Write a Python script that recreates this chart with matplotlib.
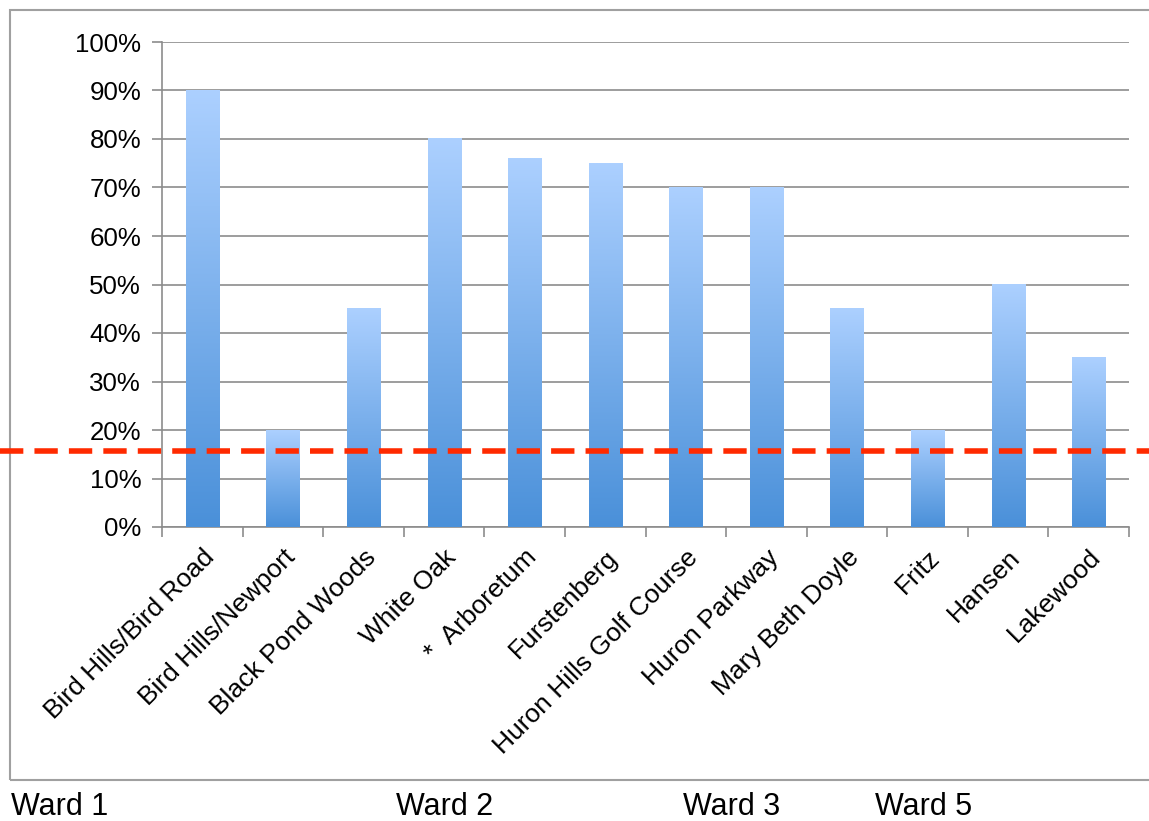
import numpy as np
import matplotlib.pyplot as plt
from matplotlib.colors import LinearSegmentedColormap
from matplotlib.patches import Rectangle
from matplotlib.lines import Line2D

plt.rcParams['font.family'] = ['Liberation Sans', 'DejaVu Sans']

sites = ["Bird Hills/Bird Road", "Bird Hills/Newport", "Black Pond Woods", "White Oak",
         "*  Arboretum", "Furstenberg", "Huron Hills Golf Course", "Huron Parkway",
         "Mary Beth Doyle", "Fritz", "Hansen", "Lakewood"]
pct = [90, 20, 45, 80, 76, 75, 70, 70, 45, 20, 50, 35]
threshold = 15.7
wards = ["Ward 1", "Ward 2", "Ward 3", "Ward 5"]
ward_x = [11, 396, 683, 875]

W, H = 1149, 821
fig = plt.figure(figsize=(W / 100, H / 100), dpi=100)
ax = fig.add_axes([162 / W, 1 - 527 / H, (1129 - 162) / W, (527 - 42) / H])

x = np.arange(len(sites))
bars = ax.bar(x, pct, width=0.41, color='none', zorder=3)

# vertical gradient inside each bar
grad = LinearSegmentedColormap.from_list('bar', ['#4a90d9', '#acd0ff'])
g = np.linspace(0, 1, 256).reshape(-1, 1)
for b in bars:
    x0, y0 = b.get_x(), b.get_y()
    ax.imshow(g, cmap=grad, origin='lower', aspect='auto', zorder=3,
              extent=[x0, x0 + b.get_width(), y0, y0 + b.get_height()])

ax.set_xlim(-0.5, len(sites) - 0.5)
ax.set_ylim(0, 100)
ax.set_yticks(np.arange(0, 101, 10))
ax.set_yticklabels([f"{v}%" for v in range(0, 101, 10)], fontsize=18.6)
ax.yaxis.grid(True, color='#8c8c8c', linewidth=1.2, zorder=0)
ax.set_axisbelow(True)

ax.set_xticks(x)
ax.set_xticklabels(sites, rotation=45, ha='right', va='top', rotation_mode='anchor',
                   fontsize=19)
ax.set_xticks(np.arange(-0.5, len(sites)), minor=True)
ax.tick_params(axis='x', which='major', length=0, pad=13)
ax.tick_params(axis='x', which='minor', length=7, color='#8c8c8c', width=1.2)
ax.tick_params(axis='y', length=7, color='#8c8c8c', width=1.2, pad=8)

for s in ['top', 'right']:
    ax.spines[s].set_visible(False)
for s in ['left', 'bottom']:
    ax.spines[s].set_color('#8c8c8c')
    ax.spines[s].set_linewidth(1.2)

# dashed threshold line running across the whole figure
ty = ax.transData.transform((0, threshold))[1]
fy = fig.transFigure.inverted().transform((0, ty))[1]
fig.add_artist(Line2D([0, 1], [fy, fy], color='#ff2a00', linewidth=4,
                      linestyle=(0, (4.2, 2.0)), zorder=5))

# outer frame
fig.add_artist(Rectangle((10 / W, 1 - 780 / H), 1.0, (780 - 10) / H,
                         fill=False, edgecolor='#a0a0a0', linewidth=1.5))

for lbl, px in zip(wards, ward_x):
    fig.text(px / W, 1 - 807 / H, lbl, fontsize=22, va='center', ha='left')

fig.savefig('out.png', dpi=100)
